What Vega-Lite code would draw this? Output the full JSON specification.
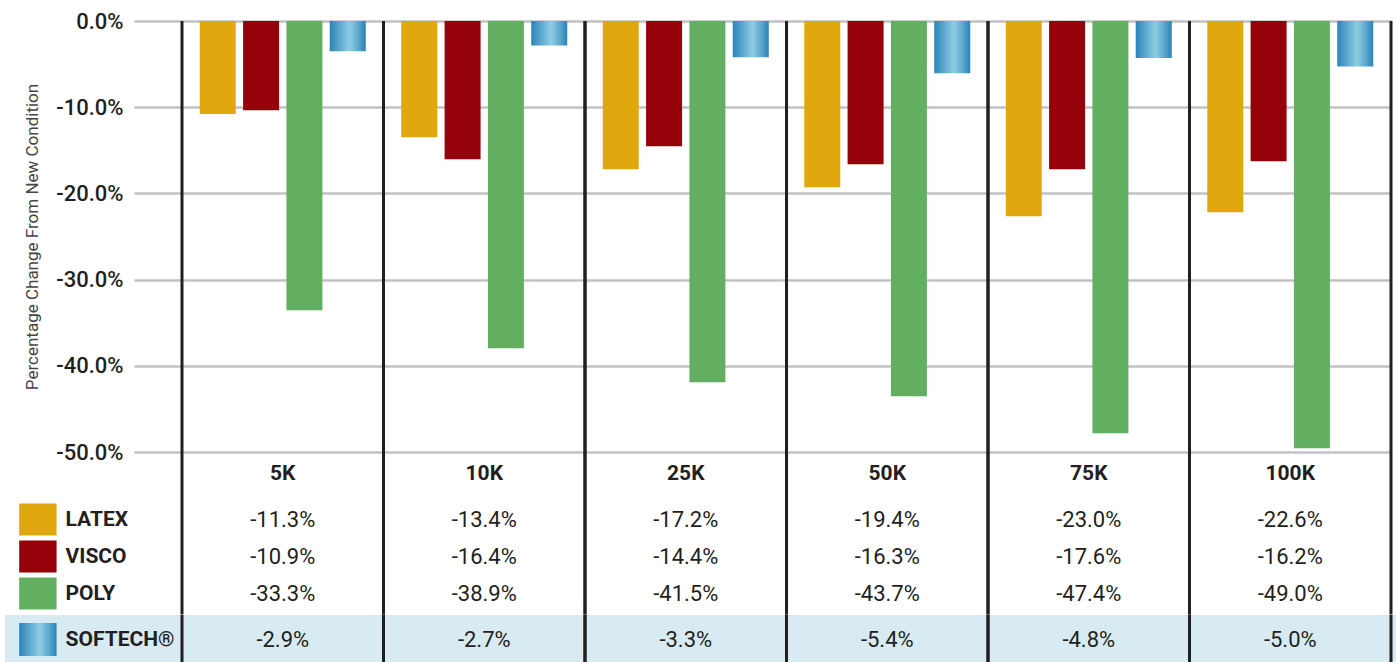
{
  "$schema": "https://vega.github.io/schema/vega-lite/v6.json",
  "autosize": {"type": "pad"},
  "padding": {"left": 5, "top": 10, "right": 0, "bottom": 0},
  "background": "white",
  "config": {
    "view": {"stroke": null},
    "font": "Roboto, Liberation Sans, sans-serif"
  },
  "datasets": {
    "bars": [
      {"load": "5K", "series": "LATEX", "bar": -10.8, "label": "-11.3%"},
      {"load": "5K", "series": "VISCO", "bar": -10.35, "label": "-10.9%"},
      {"load": "5K", "series": "POLY", "bar": -33.55, "label": "-33.3%"},
      {"load": "5K", "series": "SOFTECH", "bar": -3.5, "label": "-2.9%"},
      {"load": "10K", "series": "LATEX", "bar": -13.48, "label": "-13.4%"},
      {"load": "10K", "series": "VISCO", "bar": -16.03, "label": "-16.4%"},
      {"load": "10K", "series": "POLY", "bar": -37.96, "label": "-38.9%"},
      {"load": "10K", "series": "SOFTECH", "bar": -2.85, "label": "-2.7%"},
      {"load": "25K", "series": "LATEX", "bar": -17.19, "label": "-17.2%"},
      {"load": "25K", "series": "VISCO", "bar": -14.52, "label": "-14.4%"},
      {"load": "25K", "series": "POLY", "bar": -41.9, "label": "-41.5%"},
      {"load": "25K", "series": "SOFTECH", "bar": -4.2, "label": "-3.3%"},
      {"load": "50K", "series": "LATEX", "bar": -19.28, "label": "-19.4%"},
      {"load": "50K", "series": "VISCO", "bar": -16.61, "label": "-16.3%"},
      {"load": "50K", "series": "POLY", "bar": -43.53, "label": "-43.7%"},
      {"load": "50K", "series": "SOFTECH", "bar": -6.05, "label": "-5.4%"},
      {"load": "75K", "series": "LATEX", "bar": -22.64, "label": "-23.0%"},
      {"load": "75K", "series": "VISCO", "bar": -17.19, "label": "-17.6%"},
      {"load": "75K", "series": "POLY", "bar": -47.82, "label": "-47.4%"},
      {"load": "75K", "series": "SOFTECH", "bar": -4.3, "label": "-4.8%"},
      {"load": "100K", "series": "LATEX", "bar": -22.18, "label": "-22.6%"},
      {"load": "100K", "series": "VISCO", "bar": -16.26, "label": "-16.2%"},
      {"load": "100K", "series": "POLY", "bar": -49.56, "label": "-49.0%"},
      {"load": "100K", "series": "SOFTECH", "bar": -5.28, "label": "-5.0%"}
    ],
    "loads": [
      {"load": "5K"}, {"load": "10K"}, {"load": "25K"},
      {"load": "50K"}, {"load": "75K"}, {"load": "100K"}
    ],
    "series": [
      {"series": "LATEX", "name": "LATEX"},
      {"series": "VISCO", "name": "VISCO"},
      {"series": "POLY", "name": "POLY"},
      {"series": "SOFTECH", "name": "SOFTECH®"}
    ]
  },
  "columns": 2,
  "spacing": 0,
  "bounds": "flush",
  "align": "each",
  "resolve": {"scale": {"x": "independent", "y": "independent", "xOffset": "independent"}},
  "concat": [
    {
      "width": 176.5, "height": 431,
      "data": {"values": []},
      "mark": "point"
    },
    {
      "width": 1209, "height": 431,
      "data": {"name": "bars"},
      "layer": [
        {
          "transform": [{"filter": "datum.series !== 'SOFTECH'"}],
          "mark": {"type": "bar"},
          "encoding": {
            "x": {"field": "load", "type": "nominal", "scale": {"domain": ["5K", "10K", "25K", "50K", "75K", "100K"], "paddingInner": 0, "paddingOuter": 0}, "axis": null},
            "xOffset": {"field": "series", "type": "nominal", "scale": {"domain": ["LATEX", "VISCO", "POLY", "SOFTECH"], "paddingInner": 0.169, "paddingOuter": 0.41}},
            "y": {
              "field": "bar", "type": "quantitative",
              "scale": {"domain": [-50, 0], "nice": false},
              "axis": {
                "values": [0, -10, -20, -30, -40, -50],
                "labelExpr": "(datum.value < 0 ? '-' : '') + format(abs(datum.value), '.1f') + '%'",
                "domain": false,
                "ticks": true, "tickSize": 48, "tickWidth": 2.5, "tickColor": "#c2c2c6",
                "grid": true, "gridWidth": 2.5, "gridColor": "#c2c2c6",
                "labelPadding": 11, "labelFontSize": 22, "labelColor": "#231f20", "labelFontWeight": 500,
                "title": "Percentage Change From New Condition",
                "titleFontSize": 17, "titleFontWeight": "normal", "titleColor": "#454545",
                "titlePadding": 14
              }
            },
            "color": {"field": "series", "type": "nominal", "scale": {"domain": ["LATEX", "VISCO", "POLY"], "range": ["#e0a70f", "#960209", "#62af62"]}, "legend": null}
          }
        },
        {
          "transform": [{"filter": "datum.series === 'SOFTECH'"}],
          "mark": {
            "type": "bar",
            "color": {
              "gradient": "linear", "x1": 0, "y1": 0, "x2": 1, "y2": 0,
              "stops": [
                {"offset": 0, "color": "#2a84b7"},
                {"offset": 0.3, "color": "#62acd0"},
                {"offset": 0.55, "color": "#8dcde3"},
                {"offset": 0.8, "color": "#5ca7cc"},
                {"offset": 1, "color": "#2882b5"}
              ]
            }
          },
          "encoding": {
            "x": {"field": "load", "type": "nominal"},
            "xOffset": {"field": "series", "type": "nominal"},
            "y": {"field": "bar", "type": "quantitative"}
          }
        },
        {
          "data": {"name": "loads"},
          "mark": {"type": "rule", "color": "#231f20", "strokeWidth": 3},
          "encoding": {"x": {"field": "load", "type": "nominal", "bandPosition": 0}}
        },
        {
          "data": {"name": "loads"},
          "mark": {"type": "rule", "color": "#231f20", "strokeWidth": 3},
          "encoding": {"x": {"field": "load", "type": "nominal", "bandPosition": 1}}
        }
      ]
    },
    {
      "width": 176.5, "height": 43,
      "data": {"values": []},
      "mark": "point"
    },
    {
      "width": 1209, "height": 43,
      "data": {"name": "loads"},
      "layer": [
        {
          "mark": {"type": "text", "fontSize": 21, "fontWeight": "bold", "color": "#231f20"},
          "encoding": {
            "x": {"field": "load", "type": "nominal", "scale": {"domain": ["5K", "10K", "25K", "50K", "75K", "100K"], "paddingInner": 0, "paddingOuter": 0}, "axis": null},
            "text": {"field": "load"}
          }
        },
        {
          "mark": {"type": "rule", "color": "#231f20", "strokeWidth": 3},
          "encoding": {"x": {"field": "load", "type": "nominal", "bandPosition": 0}}
        },
        {
          "mark": {"type": "rule", "color": "#231f20", "strokeWidth": 3},
          "encoding": {"x": {"field": "load", "type": "nominal", "bandPosition": 1}}
        }
      ]
    },
    {
      "width": 176.5, "height": 119.5,
      "data": {"name": "series"},
      "transform": [{"filter": "datum.series !== 'SOFTECH'"}],
      "layer": [
        {
          "mark": {"type": "rect"},
          "encoding": {
            "x": {"datum": "swatch", "type": "nominal", "scale": {"type": "band", "domain": ["swatch", "label"], "paddingInner": 0.194, "paddingOuter": 1.541, "align": 0.153}, "axis": null},
            "y": {"field": "series", "type": "nominal", "scale": {"type": "band", "domain": ["LATEX", "VISCO", "POLY"], "paddingInner": 0.135, "paddingOuter": 0.1824, "align": 0.63}, "axis": null},
            "color": {"field": "series", "type": "nominal", "scale": {"domain": ["LATEX", "VISCO", "POLY"], "range": ["#e0a70f", "#960209", "#62af62"]}, "legend": null}
          }
        },
        {
          "mark": {"type": "text", "align": "left", "fontSize": 21, "fontWeight": "bold", "color": "#231f20"},
          "encoding": {
            "x": {"datum": "label", "type": "nominal", "bandPosition": 0},
            "y": {"field": "series", "type": "nominal"},
            "text": {"field": "name"}
          }
        }
      ]
    },
    {
      "width": 1209, "height": 119.5,
      "layer": [
        {
          "data": {"name": "bars"},
          "transform": [{"filter": "datum.series !== 'SOFTECH'"}],
          "mark": {"type": "text", "fontSize": 22, "color": "#231f20"},
          "encoding": {
            "x": {"field": "load", "type": "nominal", "scale": {"type": "band", "domain": ["5K", "10K", "25K", "50K", "75K", "100K"], "paddingInner": 0, "paddingOuter": 0}, "axis": null},
            "y": {"field": "series", "type": "nominal", "scale": {"type": "band", "domain": ["LATEX", "VISCO", "POLY"], "paddingInner": 0.135, "paddingOuter": 0.1824, "align": 0.63}, "axis": null},
            "text": {"field": "label"}
          }
        },
        {
          "data": {"name": "loads"},
          "mark": {"type": "rule", "color": "#231f20", "strokeWidth": 3},
          "encoding": {"x": {"field": "load", "type": "nominal", "bandPosition": 0}}
        },
        {
          "data": {"name": "loads"},
          "mark": {"type": "rule", "color": "#231f20", "strokeWidth": 3},
          "encoding": {"x": {"field": "load", "type": "nominal", "bandPosition": 1}}
        }
      ]
    },
    {
      "width": 176.5, "height": 49,
      "view": {"fill": "#d8ebf2", "stroke": null},
      "data": {"name": "series"},
      "transform": [{"filter": "datum.series === 'SOFTECH'"}],
      "layer": [
        {
          "mark": {
            "type": "rect",
            "color": {
              "gradient": "linear", "x1": 0, "y1": 0, "x2": 1, "y2": 0,
              "stops": [
                {"offset": 0, "color": "#2a84b7"},
                {"offset": 0.3, "color": "#62acd0"},
                {"offset": 0.55, "color": "#8dcde3"},
                {"offset": 0.8, "color": "#5ca7cc"},
                {"offset": 1, "color": "#2882b5"}
              ]
            }
          },
          "encoding": {
            "x": {"datum": "swatch", "type": "nominal", "scale": {"type": "band", "domain": ["swatch", "label"], "paddingInner": 0.194, "paddingOuter": 1.541, "align": 0.153}, "axis": null},
            "y": {"field": "series", "type": "nominal", "scale": {"type": "band", "domain": ["SOFTECH"], "paddingInner": 0, "paddingOuter": 0.2424}, "axis": null}
          }
        },
        {
          "mark": {"type": "text", "align": "left", "fontSize": 21, "fontWeight": "bold", "color": "#231f20"},
          "encoding": {
            "x": {"datum": "label", "type": "nominal", "bandPosition": 0},
            "y": {"field": "series", "type": "nominal"},
            "text": {"field": "name"}
          }
        }
      ]
    },
    {
      "width": 1214.5, "height": 49,
      "view": {"fill": "#d8ebf2", "stroke": null},
      "layer": [
        {
          "data": {"name": "bars"},
          "transform": [{"filter": "datum.series === 'SOFTECH'"}],
          "mark": {"type": "text", "fontSize": 22, "color": "#231f20"},
          "encoding": {
            "x": {"field": "load", "type": "nominal", "scale": {"type": "band", "domain": ["5K", "10K", "25K", "50K", "75K", "100K"], "paddingInner": 0, "paddingOuter": 0.01365, "align": 0}, "axis": null},
            "text": {"field": "label"}
          }
        },
        {
          "data": {"name": "loads"},
          "mark": {"type": "rule", "color": "#231f20", "strokeWidth": 3},
          "encoding": {"x": {"field": "load", "type": "nominal", "bandPosition": 0}}
        },
        {
          "data": {"name": "loads"},
          "mark": {"type": "rule", "color": "#231f20", "strokeWidth": 3},
          "encoding": {"x": {"field": "load", "type": "nominal", "bandPosition": 1}}
        }
      ]
    }
  ]
}
